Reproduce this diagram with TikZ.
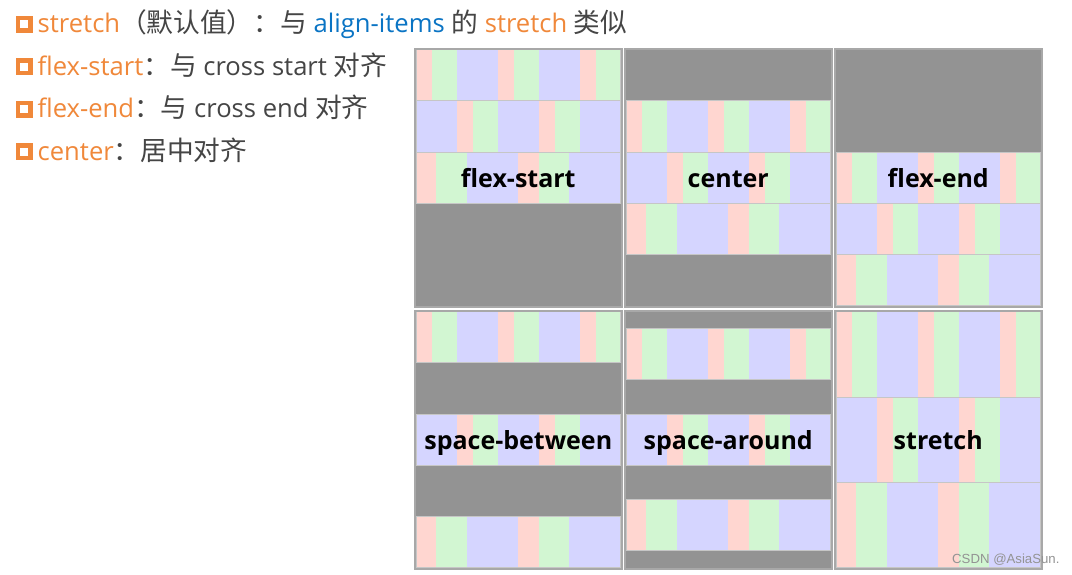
\documentclass[tikz,border=0pt]{standalone}
\usepackage{fontspec}
\setmainfont{Open Sans}
\newfontfamily\cjk{Noto Sans CJK SC}
\newfontfamily\wmfont{Liberation Sans}
\definecolor{orng}{HTML}{F0883A}
\definecolor{txtgray}{HTML}{454545}
\definecolor{blu}{HTML}{0A74C4}
\definecolor{pr}{HTML}{FFD6D0}
\definecolor{pg}{HTML}{D2F6D2}
\definecolor{pb}{HTML}{D5D5FF}
\definecolor{bggray}{HTML}{939393}
\definecolor{framegray}{HTML}{A8A8A8}
\def\patA{pr/2,pg/3,pb/5,pr/2,pg/3,pb/5,pr/2,pg/3}
\def\patB{pb/5,pr/2,pg/3,pb/5,pr/2,pg/3,pb/5}
\def\patC{pr/2.5,pg/3.75,pb/6.25,pr/2.5,pg/3.75,pb/6.25}
\def\rh{51.2}
\def\uw{8.18}
\def\pw{204.5}
\def\ph{256}
\newcommand{\zh}[1]{{\cjk\fontsize{26.7}{26.7}\selectfont #1}}
\newcommand{\frow}[5]{%
  \xdef\cx{#1}%
  \pgfmathsetmacro\ry{#2+#3*\rh}%
  \pgfmathsetmacro\rhh{#4*\rh}%
  \foreach \c/\w in #5 {%
    \fill[\c] (\cx,\ry) rectangle ++(\w*\uw,\rhh);%
    \pgfmathsetmacro\tmp{\cx+\w*\uw}\xdef\cx{\tmp}%
  }%
  \draw[rowline] (#1,\ry) rectangle ++(\pw,\rhh);%
}
\newcommand{\panelbg}[2]{\fill[bggray] (#1,#2) rectangle ++(\pw,\ph);}
\newcommand{\panelframe}[2]{\draw[framegray,line width=2pt] (#1-1,#2-1) rectangle ++(\pw+2,\ph+2);}
\begin{document}
\begin{tikzpicture}[x=1pt,y=-1pt,
  rowline/.style={draw=gray!45,line width=0.6pt},
  lbl/.style={anchor=base,inner sep=0pt,text=black,font=\fontsize{25}{25}\selectfont\bfseries},
  line/.style={anchor=base west,inner sep=0pt,text=txtgray,font=\fontsize{25.6}{25.6}\selectfont},
  bullet/.style={rectangle,draw=orng,line width=4.6pt,minimum size=12.8pt,inner sep=0pt}]
\fill[white] (0,0) rectangle (1072,574);
\useasboundingbox (0,0) rectangle (1072,574);
% left text
\node[bullet] (b1) at (24.3,24.2) {};
\node[bullet] (b2) at (24.3,66.7) {};
\node[bullet] (b3) at (24.3,109.2) {};
\node[bullet] (b4) at (24.3,151.7) {};
\node[line] (t1) at (37.5,32.5) {{\color{orng}stretch}\zh{（默认值）：与} {\color{blu}align-items} \zh{的} {\color{orng}stretch} \zh{类似}};
\node[line] (t2) at (37.5,75) {{\color{orng}flex-start}\zh{：与} cross start \zh{对齐}};
\node[line] (t3) at (37.5,117.5) {{\color{orng}flex-end}\zh{：与} cross end \zh{对齐}};
\node[line] (t4) at (37.5,160) {{\color{orng}center}\zh{：居中对齐}};
% panels top row
\panelbg{416}{49.5}
\frow{416}{49.5}{0}{1}{\patA}\frow{416}{49.5}{1}{1}{\patB}\frow{416}{49.5}{2}{1}{\patC}
\panelframe{416}{49.5}
\panelbg{626}{49.5}
\frow{626}{49.5}{1}{1}{\patA}\frow{626}{49.5}{2}{1}{\patB}\frow{626}{49.5}{3}{1}{\patC}
\panelframe{626}{49.5}
\panelbg{836}{49.5}
\frow{836}{49.5}{2}{1}{\patA}\frow{836}{49.5}{3}{1}{\patB}\frow{836}{49.5}{4}{1}{\patC}
\panelframe{836}{49.5}
% panels bottom row
\panelbg{416}{311.5}
\frow{416}{311.5}{0}{1}{\patA}\frow{416}{311.5}{2}{1}{\patB}\frow{416}{311.5}{4}{1}{\patC}
\panelframe{416}{311.5}
\panelbg{626}{311.5}
\frow{626}{311.5}{1/3}{1}{\patA}\frow{626}{311.5}{2}{1}{\patB}\frow{626}{311.5}{11/3}{1}{\patC}
\panelframe{626}{311.5}
\panelbg{836}{311.5}
\frow{836}{311.5}{0}{5/3}{\patA}\frow{836}{311.5}{5/3}{5/3}{\patB}\frow{836}{311.5}{10/3}{5/3}{\patC}
\panelframe{836}{311.5}
% labels
\node[lbl] (lfs) at (518.25,187.5) {flex-start};
\node[lbl] (lc) at (728.25,187.5) {center};
\node[lbl] (lfe) at (938.25,187.5) {flex-end};
\node[lbl] (lsb) at (518.25,449.5) {space-between};
\node[lbl] (lsa) at (728.25,449.5) {space-around};
\node[lbl] (lst) at (938.25,449.5) {stretch};
\node[anchor=base west,inner sep=0pt,text=gray!85,font=\wmfont\fontsize{13.2}{13.2}\selectfont] (wm) at (952,563.5) {CSDN @AsiaSun.};
\end{tikzpicture}
\end{document}
